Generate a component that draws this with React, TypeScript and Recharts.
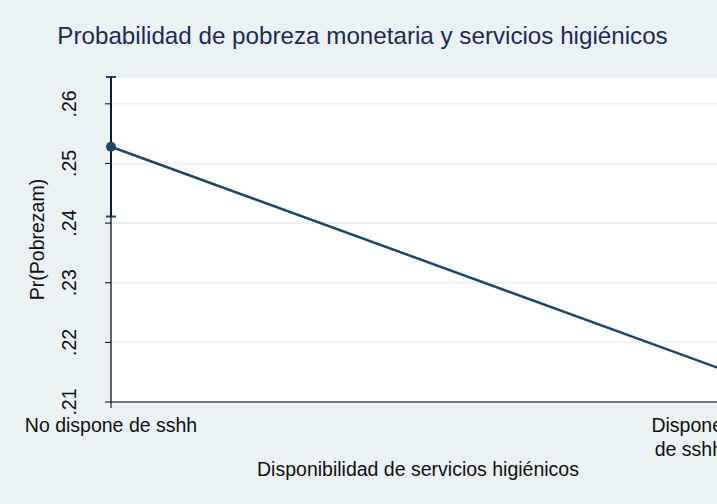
import React from 'react';
import { LineChart, Line, XAxis, YAxis, CartesianGrid, ErrorBar, Label } from 'recharts';

// ---- data ----
const categoryLines: string[][] = [['No dispone de sshh'], ['Dispone', 'de sshh']];
const xValues = [0, 1];
const probabilities = [0.2528, 0.2153];
const ciHalfWidths = [0.0117, 0.0045];
const yTicks = [0.21, 0.22, 0.23, 0.24, 0.25, 0.26];
const titleText = 'Probabilidad de pobreza monetaria y servicios higiénicos';
const xTitle = 'Disponibilidad de servicios higiénicos';
const yTitle = 'Pr(Pobrezam)';

const data = xValues.map((x, i) => ({ x, prob: probabilities[i], ci: ciHalfWidths[i] }));

const W = 725;
const H = 504;
const FONT = '"Liberation Sans", Arial, Helvetica, sans-serif';
const BG = '#eaf2f3';
const NAVY = '#1a476f';
const TXT = '#111111';

const fmt = (v: number) => v.toFixed(2).replace(/^0/, '');

const XTick = (props: any) => {
  const { x, y, payload } = props;
  const idx = xValues.indexOf(payload.value);
  const lines = categoryLines[idx] || [];
  const isLast = idx === xValues.length - 1;
  const anchor = isLast ? 'end' : 'middle';
  const tx = isLast ? W - 2 : x;
  return (
    <g>
      {lines.map((l, i) => (
        <text key={i} x={tx} y={y + 24 + i * 24} textAnchor={anchor} fontSize={19.5} fill={TXT} fontFamily={FONT}>
          {l}
        </text>
      ))}
    </g>
  );
};

const YTick = (props: any) => {
  const { x, y, payload } = props;
  const bx = x - 29;
  return (
    <text x={bx} y={y} transform={`rotate(-90, ${bx}, ${y})`} textAnchor="middle" fontSize={19.5} fill={TXT} fontFamily={FONT}>
      {fmt(payload.value)}
    </text>
  );
};

const YTitle = (props: any) => {
  const vb = props.viewBox || { x: 0, y: 77, width: 111, height: 325 };
  const cx = 44;
  const cy = vb.y + vb.height / 2;
  return (
    <text x={cx} y={cy} transform={`rotate(-90, ${cx}, ${cy})`} textAnchor="middle" fontSize={19.5} fill={TXT} fontFamily={FONT}>
      {yTitle}
    </text>
  );
};

const XTitle = (props: any) => {
  const vb = props.viewBox || { x: 111, y: 402, width: 614, height: 102 };
  return (
    <text x={vb.x + vb.width / 2} y={vb.y + 74} textAnchor="middle" fontSize={19.5} fill={TXT} fontFamily={FONT}>
      {xTitle}
    </text>
  );
};

export default function App() {
  return (
    <div style={{ position: 'absolute', left: 0, top: 0, width: 717, height: 504, overflow: 'hidden', background: BG }}>
      <LineChart width={W} height={H} data={data} margin={{ top: 77, right: 0, bottom: 0, left: 0 }}>
        <CartesianGrid fill="#ffffff" vertical={false} stroke={BG} strokeWidth={2} />
        <XAxis
          dataKey="x"
          type="number"
          domain={[0, 1]}
          ticks={xValues}
          height={102}
          tickSize={6}
          tickMargin={0}
          stroke="#000"
          tickLine={{ stroke: '#000' }}
          axisLine={{ stroke: '#000', strokeWidth: 1.2 }}
          tick={<XTick />}
          interval={0}
        >
          <Label content={<XTitle />} />
        </XAxis>
        <YAxis
          type="number"
          domain={[0.21, 0.2645]}
          ticks={yTicks}
          width={111}
          tickSize={6}
          tickMargin={0}
          axisLine={{ stroke: '#000', strokeWidth: 1.2 }}
          tickLine={{ stroke: '#000' }}
          tick={<YTick />}
          interval={0}
        >
          <Label content={<YTitle />} />
        </YAxis>
        <Line
          dataKey="prob"
          stroke={NAVY}
          strokeWidth={2.5}
          dot={{ r: 5, fill: NAVY, stroke: NAVY, strokeWidth: 0 }}
          isAnimationActive={false}
        >
          <ErrorBar dataKey="ci" width={5} stroke={NAVY} strokeWidth={2} direction="y" isAnimationActive={false} />
        </Line>
      </LineChart>
      <svg width={W} height={70} style={{ position: 'absolute', left: 0, top: 0, pointerEvents: 'none' }}>
        <text x={362.5} y={44} textAnchor="middle" fontSize={24.2} fill="#1c2b58" fontFamily={FONT}>
          {titleText}
        </text>
      </svg>
    </div>
  );
}
